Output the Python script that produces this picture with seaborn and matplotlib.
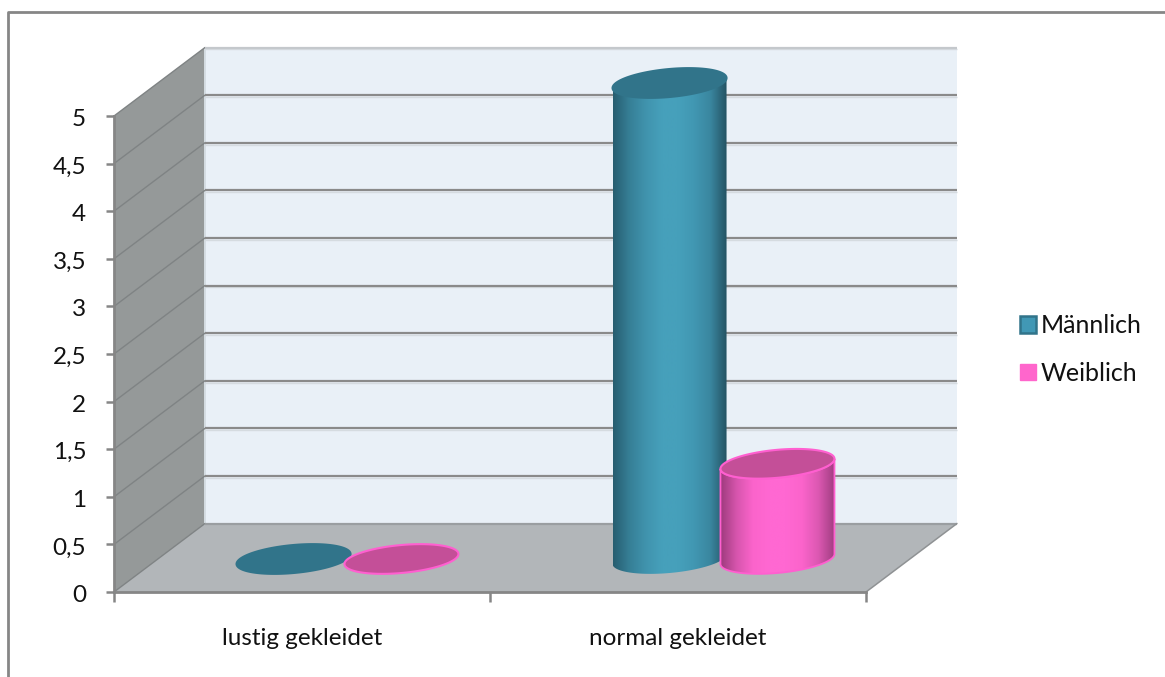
import numpy as np
import pandas as pd
import matplotlib
matplotlib.use("Agg")
import matplotlib.pyplot as plt
from matplotlib.colors import LinearSegmentedColormap
from matplotlib.lines import Line2D
from matplotlib.patches import Polygon
from matplotlib.transforms import ScaledTranslation
import seaborn as sns

categories = ["lustig gekleidet", "normal gekleidet"]
maennlich = [0, 5]
weiblich = [0, 1]
y_ticks = [0, 0.5, 1, 1.5, 2, 2.5, 3, 3.5, 4, 4.5, 5]
y_labels = ["0", "0,5", "1", "1,5", "2", "2,5", "3", "3,5", "4", "4,5", "5"]

W, H = 1165, 677
PX_X = 376.0          # pixels per category
PX_Y = 95.2           # pixels per value unit
DEPTH_X = 91 / PX_X   # depth of the chart box, in data units
DEPTH_Y = 68.5 / PX_Y
GRAY = "#868686"

STYLES = {
    "Männlich": dict(top="#31748a", edge=None,
                     stops=["#275e70", "#367f96", "#4093ad", "#46a0bb", "#46a0bb", "#4197b2", "#3a869f", "#245363"]),
    "Weiblich": dict(top="#c44f98", edge="#ff5fd0",
                     stops=["#9c3a7c", "#d655ad", "#fb64cb", "#ff68d2", "#ff68d2", "#fb64cb", "#dc58b2", "#a03d80"]),
}

df = pd.DataFrame({
    "Kategorie": categories * 2,
    "Wert": maennlich + weiblich,
    "Geschlecht": ["Männlich"] * len(categories) + ["Weiblich"] * len(categories),
})

sns.set_theme(style="white")
plt.rcParams["font.family"] = ["Lato", "DejaVu Sans"]

fig = plt.figure(figsize=(W / 100, H / 100), dpi=100, facecolor="white")
ax = fig.add_axes([114 / W, (H - 592) / H, 752 / W, 476 / H])

sns.barplot(data=df, x="Kategorie", y="Wert", hue="Geschlecht", ax=ax,
            width=0.574, gap=0, saturation=1,
            palette={"Männlich": "#4198b5", "Weiblich": "#ff66cc"})

x0, x1 = -0.5, 1.5
y0, y1 = 0.0, 5.0
ax.patch.set_visible(False)

# Box walls and floor
ax.add_patch(Polygon([(x0 + DEPTH_X, y0 + DEPTH_Y), (x1 + DEPTH_X, y0 + DEPTH_Y),
                      (x1 + DEPTH_X, y1 + DEPTH_Y), (x0 + DEPTH_X, y1 + DEPTH_Y)],
                     fc="#e9f0f7", ec="none", clip_on=False, zorder=0.5))
ax.add_patch(Polygon([(x0, y0), (x0 + DEPTH_X, y0 + DEPTH_Y),
                      (x0 + DEPTH_X, y1 + DEPTH_Y), (x0, y1)],
                     fc="#959999", ec="none", clip_on=False, zorder=0.6))
ax.add_patch(Polygon([(x0, y0), (x1, y0), (x1 + DEPTH_X, y0 + DEPTH_Y), (x0 + DEPTH_X, y0 + DEPTH_Y)],
                     fc="#b2b6b9", ec="none", clip_on=False, zorder=0.7))

# Gridlines run along the side wall and across the back wall
for v in y_ticks:
    ax.plot([x0, x0 + DEPTH_X], [v, v + DEPTH_Y], color="#7f8384", lw=1.0, clip_on=False, zorder=0.8)
    wall_color = "#c4c8cc" if v == y1 else "#8a8a8a"
    if 0 < v:
        # Pale line just beneath each gridline
        ax.plot([x0 + DEPTH_X, x1 + DEPTH_X], [v + DEPTH_Y - 1.8 / PX_Y] * 2, color="#d5dbe0",
                lw=1.0, clip_on=False, zorder=0.78, solid_capstyle="butt")
    ax.plot([x0 + DEPTH_X, x1 + DEPTH_X], [v + DEPTH_Y] * 2, color=wall_color if v else "#9a9ea1",
            lw=1.6, clip_on=False, zorder=0.8, solid_capstyle="butt")
ax.plot([x0 + DEPTH_X] * 2, [y0 + DEPTH_Y, y1 + DEPTH_Y], color="#d5dde3", lw=1.4, clip_on=False, zorder=0.75)
ax.plot([x1, x1 + DEPTH_X], [y0, y0 + DEPTH_Y], color="#8f9294", lw=1.1, clip_on=False, zorder=0.8)


def ring(cx, cy, t):
    """Points on a cylinder cap: a sheared circle, seen from above the floor."""
    px = cx + (57 / PX_X) * np.cos(t)
    py = cy + (14 * np.sin(t) + 5 * np.cos(t)) / PX_Y
    return np.column_stack([px, py])


gradient = np.linspace(0, 1, 256).reshape(1, -1)
for order, container in enumerate(ax.containers):
    name = list(STYLES)[order]
    style = STYLES[name]
    cmap = LinearSegmentedColormap.from_list(name, style["stops"])
    for rect in container:
        value = rect.get_height()
        rect.set_visible(False)
        cx = rect.get_x() + rect.get_width() / 2 + DEPTH_X / 2
        base = 33 / PX_Y
        top = base + value
        half = np.linspace(np.pi, 2 * np.pi, 80)
        zo = 3 + order

        if value > 0:
            outline = np.vstack([ring(cx, top, half), ring(cx, base, half)[::-1]])
            body = Polygon(outline, transform=ax.transData, fc="none",
                           ec=style["edge"] or "none", lw=1.3, clip_on=False, zorder=zo + 0.1)
            ax.add_patch(body)
            hw = 57 / PX_X
            im = ax.imshow(gradient, cmap=cmap, aspect="auto", interpolation="bilinear",
                           extent=[cx - hw, cx + hw, base - 0.3, top + 0.3], zorder=zo)
            im.set_clip_box(fig.bbox)
            im.set_clip_path(Polygon(outline, transform=ax.transData))

        full = np.linspace(0, 2 * np.pi, 160)
        ax.add_patch(Polygon(ring(cx, top, full), fc=style["top"], ec=style["edge"] or style["top"],
                             lw=1.5, clip_on=False, zorder=zo + 0.2))

# Axes, ticks and labels
ax.set_xlim(x0, x1)
ax.set_ylim(y0, y1)
ax.set_xlabel("")
ax.set_ylabel("")
ax.set_yticks(y_ticks, y_labels)
ax.set_xticks([0, 1], categories)
ax.set_xticks([-0.5, 0.5, 1.5], minor=True)
ax.tick_params(axis="y", length=6, width=1.8, color=GRAY, pad=14, labelsize=17.5, labelcolor="#111111", left=True)
ax.tick_params(axis="x", which="major", length=0, pad=26, labelsize=17.5, labelcolor="#111111")
ax.tick_params(axis="x", which="minor", length=7, width=1.8, color=GRAY, bottom=True)
for side in ("top", "right"):
    ax.spines[side].set_visible(False)
for side in ("left", "bottom"):
    ax.spines[side].set_color(GRAY)
    ax.spines[side].set_linewidth(2.0)
    ax.spines[side].set_zorder(2)

# Tick numbers sit slightly below their tick marks
nudge = ScaledTranslation(0, -1.5 / 100, fig.dpi_scale_trans)
for label in ax.get_yticklabels():
    label.set_transform(label.get_transform() + nudge)

# Legend to the right of the box
sns.move_legend(ax, loc="center left", bbox_to_anchor=(1020 / W, (H - 349.5) / H),
                bbox_transform=fig.transFigure, frameon=False, title=None,
                fontsize=18, handlelength=0.62, handleheight=0.62, handletextpad=0.22,
                labelspacing=0.97, borderpad=0, borderaxespad=0, labelcolor="#111111")
leg_handles = ax.get_legend().get_patches()
leg_handles[0].set_edgecolor("#31748a")
leg_handles[0].set_linewidth(1.8)
leg_handles[1].set_edgecolor("#ff66cc")

# Chart frame, visible along its top and left edges
fig.add_artist(Line2D([8 / W, 8 / W, 1], [0, (H - 11.5) / H, (H - 11.5) / H],
                      color=GRAY, lw=2.0, transform=fig.transFigure))

fig.savefig("out.png", dpi=100, facecolor="white")
